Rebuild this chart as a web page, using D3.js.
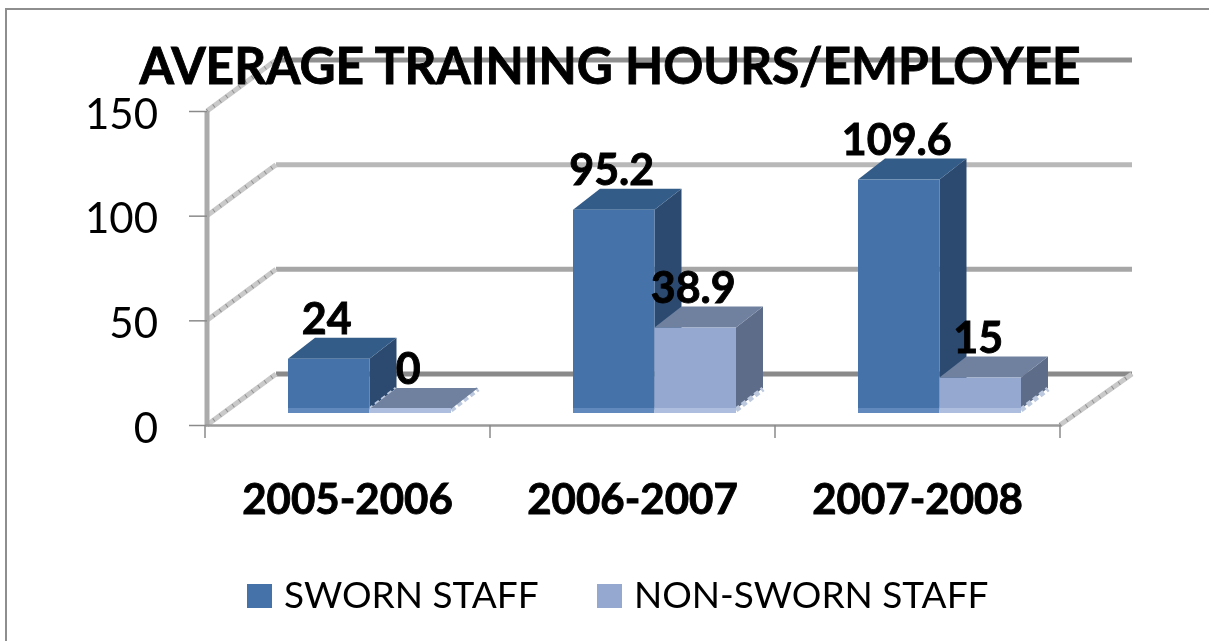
<!DOCTYPE html>
<html lang="en">
<head>
  <meta charset="UTF-8">
  <title>Average Training Hours</title>
  <style>
    html, body { margin: 0; padding: 0; background: #fff; }
    svg { display: block; filter: blur(0.5px); }
    text { font-family: Lato, "Open Sans", sans-serif; fill: #000; }
    .heavy { stroke: #000; stroke-width: 0.9px; }
  </style>
</head>
<body>
  <svg id="chart" width="1209" height="641"></svg>
  <script src="https://cdnjs.cloudflare.com/ajax/libs/d3/7.8.5/d3.min.js"></script>
  <script>
    const categories = ["2005-2006", "2006-2007", "2007-2008"];
    const sworn = [24, 95.2, 109.6];
    const nonSworn = [0, 38.9, 15];
    const yTicks = [0, 50, 100, 150];
    const seriesNames = ["SWORN STAFF", "NON-SWORN STAFF"];
    const titleText = "AVERAGE TRAINING HOURS/EMPLOYEE";

    const svg = d3.select("#chart");

    // frame, open on the right and bottom
    svg.append("path")
      .attr("d", "M6,641V9H1209")
      .attr("fill", "none")
      .attr("stroke", "#8e8e8e")
      .attr("stroke-width", 2);

    // front plane of the 3d box
    const y = d3.scaleLinear().domain([0, 150]).range([425, 111]);
    const x = d3.scaleBand().domain(categories).range([205, 1060]);
    const wallDx = 69, wallDy = -51;   // floor depth
    const barDx = 27, barDy = -21;     // bar depth
    const barLift = 16;                // bars stand in the middle of the floor
    const barW = 81.5, barPad = 83;

    const gridColor = { 0: "#8a8a8a", 50: "#a6a6a6", 100: "#b8b8b8", 150: "#8f8f8f" };

    const grid = svg.append("g");

    // back wall gridlines
    grid.selectAll(".back")
      .data(yTicks)
      .join("line")
      .attr("x1", 207 + wallDx)
      .attr("x2", 1132)
      .attr("y1", d => y(d) + wallDy)
      .attr("y2", d => y(d) + wallDy)
      .attr("stroke", d => gridColor[d])
      .attr("stroke-width", 5);

    // side wall diagonals, light with a hatch on top
    const diagonals = yTicks.map(d => [207, y(d), 207 + wallDx, y(d) + wallDy]);
    diagonals.push([1060, y(0), 1060 + wallDx + 3, y(0) + wallDy]);
    grid.selectAll(".diag")
      .data(diagonals)
      .join("line")
      .attr("x1", d => d[0]).attr("y1", d => d[1])
      .attr("x2", d => d[2]).attr("y2", d => d[3])
      .attr("stroke", "#c9c9c9")
      .attr("stroke-width", 5);
    grid.selectAll(".hatch")
      .data(diagonals)
      .join("line")
      .attr("x1", d => d[0]).attr("y1", d => d[1])
      .attr("x2", d => d[2]).attr("y2", d => d[3])
      .attr("stroke", "#8f8f8f")
      .attr("stroke-width", 4)
      .attr("stroke-dasharray", "1 7");

    // y axis wall
    grid.append("line")
      .attr("x1", 207).attr("x2", 207)
      .attr("y1", y(150)).attr("y2", y(0))
      .attr("stroke", "#ababab")
      .attr("stroke-width", 5);

    // floor front edge + axes
    const yAxis = d3.axisLeft(y).tickValues(yTicks).tickSize(18).tickPadding(31);
    const gy = svg.append("g").attr("transform", "translate(207,0)").call(yAxis);
    gy.select(".domain").remove();
    gy.selectAll("line").attr("stroke", "#8a8a8a").attr("stroke-width", 1.5);
    gy.selectAll("text").attr("font-size", 42).attr("dy", "0.41em");

    const xAxis = d3.axisBottom(x).tickSize(0).tickPadding(59);
    const gx = svg.append("g").attr("transform", "translate(0,425)").call(xAxis);
    gx.select(".domain").attr("stroke", "#9a9a9a").attr("stroke-width", 2.5);
    gx.selectAll("text").attr("font-size", 42).attr("font-weight", 700).attr("class", "heavy");
    svg.append("g").selectAll("line")
      .data(categories.map(c => x(c)).concat([x.range()[1]]))
      .join("line")
      .attr("x1", d => d).attr("x2", d => d)
      .attr("y1", 425).attr("y2", 438)
      .attr("stroke", "#8a8a8a")
      .attr("stroke-width", 1.5);

    // bars
    const palettes = [
      { front: "#4573a9", top: "#345c88", side: "#2c4a70", strip: "#6189bd" },
      { front: "#95a8d0", top: "#6f819f", side: "#5d6c89", strip: "#adbede" }
    ];
    const base = y(0) - barLift;
    const rows = [];
    categories.forEach((c, i) => {
      [sworn[i], nonSworn[i]].forEach((v, s) => {
        rows.push({ c, s, v, x0: x(c) + barPad + s * barW, top: base - (y(0) - y(v)) });
      });
    });

    const bars = svg.append("g").selectAll("g").data(rows).join("g");
    bars.append("path") // side
      .attr("d", d => `M${d.x0 + barW},${d.top}l${barDx},${barDy}V${base + barDy}l${-barDx},${-barDy}Z`)
      .attr("fill", d => palettes[d.s].side);
    bars.append("line") // light hatch along the foot of the side
      .attr("x1", d => d.x0 + barW).attr("y1", base + 1)
      .attr("x2", d => d.x0 + barW + barDx).attr("y2", base + barDy + 1)
      .attr("stroke", "#bcc8de")
      .attr("stroke-width", 5)
      .attr("stroke-dasharray", "5 3");
    bars.append("path") // top
      .attr("d", d => `M${d.x0},${d.top}l${barDx},${barDy}h${barW}l${-barDx},${-barDy}Z`)
      .attr("fill", d => palettes[d.s].top);
    bars.append("rect") // front
      .attr("x", d => d.x0).attr("y", d => d.top)
      .attr("width", barW).attr("height", d => base - d.top)
      .attr("fill", d => palettes[d.s].front);
    bars.append("rect") // lighter strip at the foot
      .attr("x", d => d.x0).attr("y", base - 1)
      .attr("width", barW).attr("height", 5)
      .attr("fill", d => palettes[d.s].strip);

    // value labels
    svg.append("g").selectAll("text")
      .data(rows)
      .join("text")
      .attr("class", "heavy")
      .attr("x", d => d.x0 + barW / 2 - 2)
      .attr("y", d => d.top - 25)
      .attr("text-anchor", "middle")
      .attr("font-size", 43)
      .attr("font-weight", 700)
      .text(d => d.v);

    // title
    svg.append("text")
      .attr("class", "heavy")
      .attr("x", 610)
      .attr("y", 84)
      .attr("text-anchor", "middle")
      .attr("font-size", 51)
      .attr("font-weight", 700)
      .attr("textLength", 941)
      .attr("lengthAdjust", "spacingAndGlyphs")
      .text(titleText);

    // legend
    const legendX = d3.scaleOrdinal().domain(seriesNames).range([247, 597]);
    const legend = svg.append("g").selectAll("g").data(seriesNames).join("g")
      .attr("transform", d => `translate(${legendX(d)},0)`);
    legend.append("rect")
      .attr("y", 584).attr("width", 25).attr("height", 24)
      .attr("fill", (d, i) => palettes[i].front);
    legend.append("text")
      .attr("x", 37).attr("y", 608)
      .attr("font-size", 37)
      .text(d => d);
  </script>
</body>
</html>
